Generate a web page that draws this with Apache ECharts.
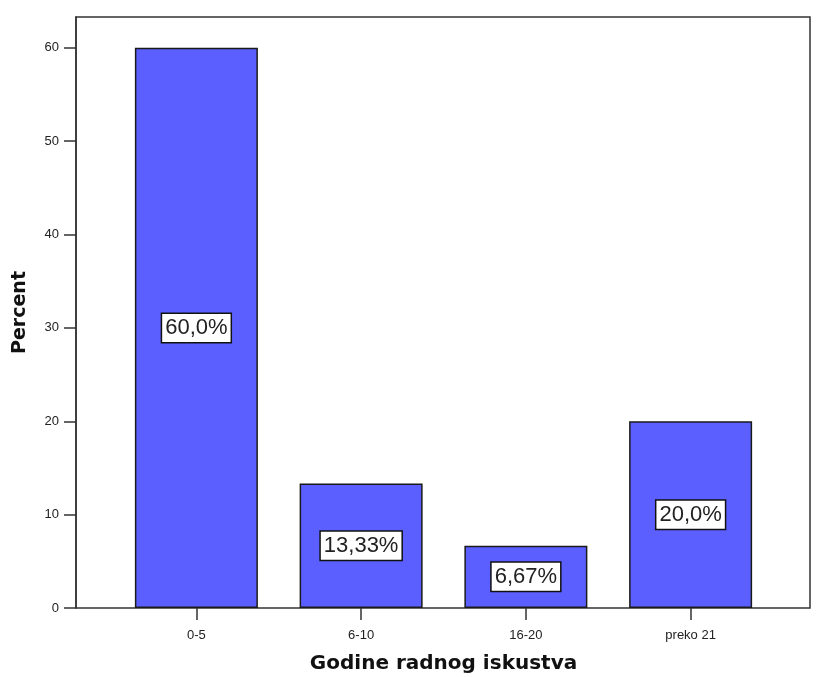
<!DOCTYPE html>
<html>
<head>
<meta charset="utf-8">
<script src="https://cdn.jsdelivr.net/npm/echarts@6/dist/echarts.min.js"></script>
<style>
html,body{margin:0;padding:0;background:#fff;}
#chart{width:817px;height:677px;}
</style>
</head>
<body>
<div id="chart"></div>
<script>
const categories = ['0-5', '6-10', '16-20', 'preko 21'];
const percentValues = [60, 13.33, 6.67, 20];
const percentLabels = ['60,0%', '13,33%', '6,67%', '20,0%'];
const yTicks = [0, 10, 20, 30, 40, 50, 60];
const xTitle = 'Godine radnog iskustva';
const yTitle = 'Percent';

const chart = echarts.init(document.getElementById('chart'));
chart.setOption({
  backgroundColor: '#ffffff',
  animation: false,
  grid: [
    { left: 76, top: 17, right: 7, bottom: 69, show: true, borderColor: '#333', borderWidth: 1.5, backgroundColor: 'transparent', outerBoundsMode: 'none', containLabel: false },
    { left: 114, top: 17, right: 44, bottom: 69, outerBoundsMode: 'none', containLabel: false }
  ],
  xAxis: [{
    gridIndex: 1,
    type: 'category',
    data: categories,
    axisLine: { show: false },
    axisTick: { show: true, alignWithLabel: true, length: 12, lineStyle: { color: '#333', width: 1.5 } },
    axisLabel: { margin: 21, fontSize: 13, color: '#222', fontFamily: 'Liberation Sans, Arial, sans-serif' },
    name: xTitle,
    nameLocation: 'middle',
    nameGap: 46,
    nameTextStyle: { fontSize: 20, fontWeight: 'bold', color: '#111', fontFamily: 'DejaVu Sans, Verdana, sans-serif' }
  }],
  yAxis: [{
    gridIndex: 1,
    type: 'value',
    min: 0,
    max: 63.3,
    interval: 10,
    offset: 38,
    splitLine: { show: false },
    axisLine: { show: true, lineStyle: { color: '#333', width: 1.5 } },
    axisTick: { show: true, length: 12, customValues: yTicks, lineStyle: { color: '#333', width: 1.5 } },
    axisLabel: { margin: 17, fontSize: 13, color: '#222', customValues: yTicks, fontFamily: 'Liberation Sans, Arial, sans-serif' },
    name: yTitle,
    nameLocation: 'middle',
    nameRotate: 90,
    nameGap: 46,
    nameTextStyle: { fontSize: 19, fontWeight: 'bold', color: '#111', fontFamily: 'DejaVu Sans, Verdana, sans-serif' }
  }],
  series: [{
    type: 'bar',
    xAxisIndex: 0,
    yAxisIndex: 0,
    data: percentValues,
    barWidth: 123,
    itemStyle: { color: '#5b5fff', borderColor: '#1a1a1a', borderWidth: 1.5 },
    label: {
      show: true,
      position: 'inside',
      formatter: p => percentLabels[p.dataIndex],
      fontSize: 22,
      lineHeight: 23,
      color: '#222',
      fontFamily: 'Liberation Sans, Arial, sans-serif',
      backgroundColor: '#ffffff',
      borderColor: '#111',
      borderWidth: 1.5,
      padding: [3, 3, 2, 3]
    }
  }]
});
</script>
</body>
</html>
